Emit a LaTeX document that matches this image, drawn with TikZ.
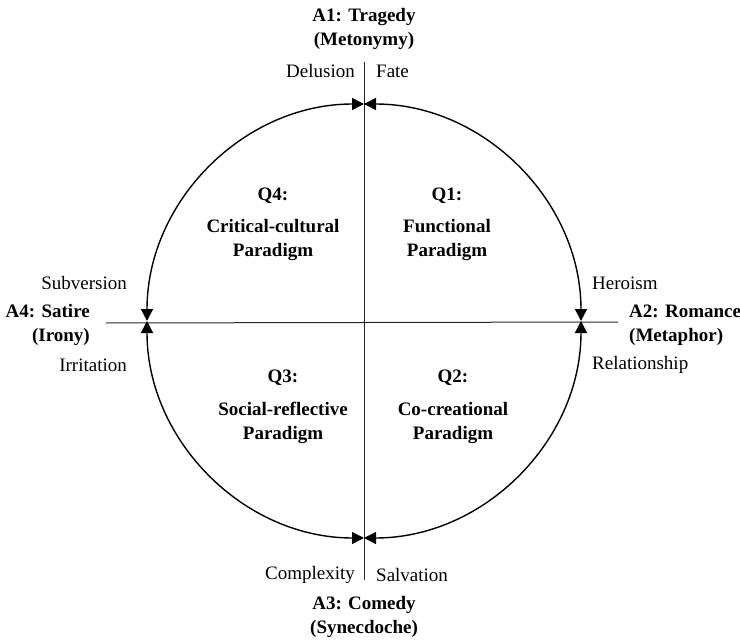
\documentclass[tikz,border=0pt]{standalone}
\usepackage{fontspec}
\setmainfont{Liberation Serif}
\usetikzlibrary{arrows.meta}
\begin{document}
\begin{tikzpicture}[x=1pt,y=-1pt,
  lbl/.style={inner sep=0pt,font=\fontsize{19}{23.5}\selectfont},
  blbl/.style={inner sep=0pt,font=\fontsize{19}{23.5}\selectfont\bfseries,align=center},
  axis/.style={line width=1pt,draw=black!85},
  ring/.style={line width=1.4pt,{Triangle[length=12pt,width=12pt]}-{Triangle[length=12pt,width=12pt]}}]
\useasboundingbox (0,0) rectangle (740,642);
% key points
\coordinate (C) at (364,321);
\coordinate (T) at (364,104);
\coordinate (B) at (364,538);
\coordinate (L) at (147,321);
\coordinate (R) at (581,321);
\coordinate (ATop) at (364,62);
\coordinate (ABot) at (364,580);
\coordinate (ALeft) at (106,323);
\coordinate (ARight) at (618,322);
% axes
\draw[axis] (ATop) -- (ABot);
\draw[axis] (ALeft) -- (ARight);
% quadrant arcs
\draw[ring] (T) arc[start angle=270,end angle=360,radius=217];
\draw[ring] (R) arc[start angle=0,end angle=90,radius=217];
\draw[ring] (B) arc[start angle=90,end angle=180,radius=217];
\draw[ring] (L) arc[start angle=180,end angle=270,radius=217];
% axis titles
\node[blbl] (a1) at (364,29) {A1: Tragedy\\(Metonymy)};
\node[blbl] (a3) at (364,617) {A3: Comedy\\(Synecdoche)};
\node[blbl,align=left,anchor=west] (a2) at (629,325) {A2: Romance\\(Metaphor)};
\node[blbl,align=right,anchor=east] (a4) at (90,325) {A4: Satire\\(Irony)};
% pole labels
\node[lbl,anchor=east] (delu) at (355,71) {Delusion};
\node[lbl,anchor=west] (fate) at (376,71) {Fate};
\node[lbl,anchor=east] (comp) at (355,575) {Complexity};
\node[lbl,anchor=west] (salv) at (376,575) {Salvation};
\node[lbl,anchor=east] (subv) at (127,283) {Subversion};
\node[lbl,anchor=east] (irri) at (127,365) {Irritation};
\node[lbl,anchor=west] (hero) at (592,283) {Heroism};
\node[lbl,anchor=west] (rela) at (592,365) {Relationship};
% quadrants
\node[blbl] (q4) at (273,196) {Q4:};
\node[blbl] (q4t) at (273,240) {Critical-cultural\\Paradigm};
\node[blbl] (q1) at (447,196) {Q1:};
\node[blbl] (q1t) at (447,240) {Functional\\Paradigm};
\node[blbl] (q3) at (283,378) {Q3:};
\node[blbl] (q3t) at (283,423) {Social-reflective\\Paradigm};
\node[blbl] (q2) at (453,378) {Q2:};
\node[blbl] (q2t) at (453,423) {Co-creational\\Paradigm};
\end{tikzpicture}
\end{document}
